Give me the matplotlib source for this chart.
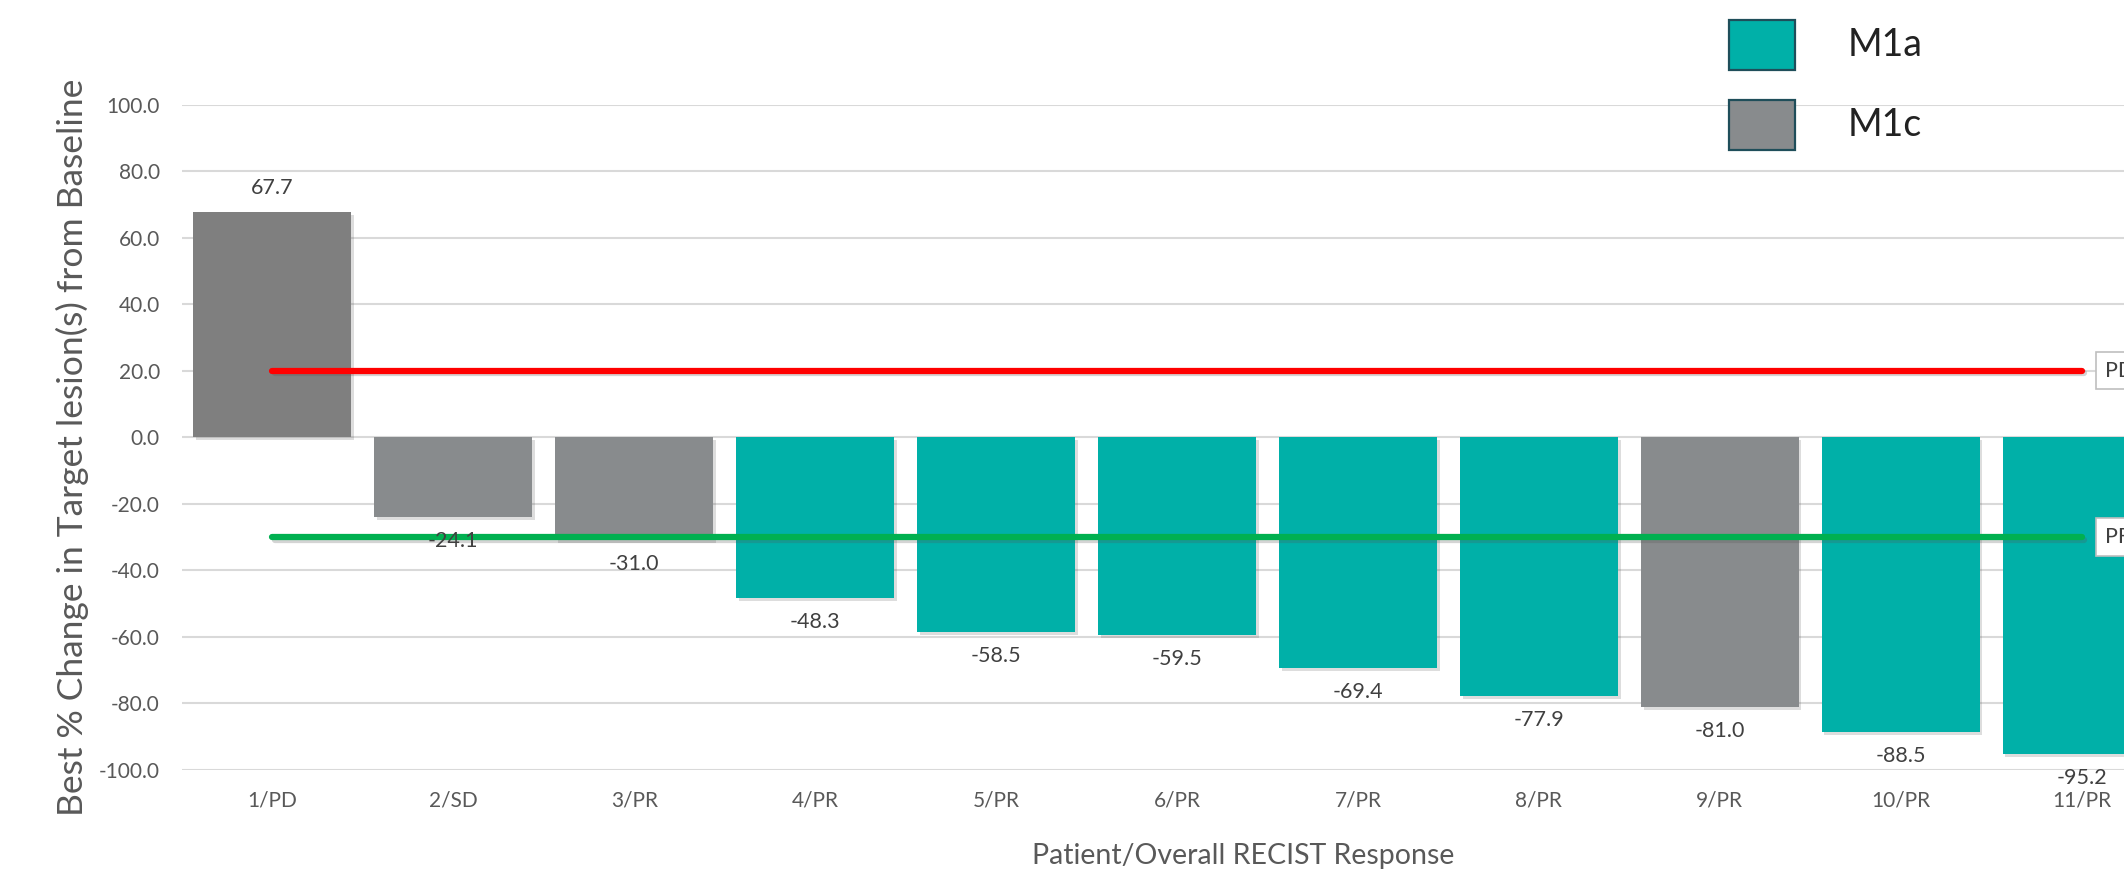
import matplotlib
matplotlib.use("Agg")
import matplotlib.pyplot as plt
import matplotlib.patheffects as pe
from matplotlib.patches import Rectangle
from matplotlib.ticker import FormatStrFormatter

plt.rcParams['font.family'] = ['Lato', 'DejaVu Sans']

categories = ["1/PD", "2/SD", "3/PR", "4/PR", "5/PR", "6/PR", "7/PR", "8/PR", "9/PR", "10/PR", "11/PR"]
values = [67.7, -24.1, -31.0, -48.3, -58.5, -59.5, -69.4, -77.9, -81.0, -88.5, -95.2]
stage = ["M1c", "M1c", "M1c", "M1a", "M1a", "M1a", "M1a", "M1a", "M1c", "M1a", "M1a"]
pd_threshold = 20
pr_threshold = -30

teal = "#00B0A8"
gray = "#888B8D"
gray_first = "#7F7F7F"

W, H = 2124, 871
fig = plt.figure(figsize=(W / 100, H / 100), dpi=100)
left, right = 182, 2172
top, bottom = 104.5, 770
ax = fig.add_axes([left / W, 1 - bottom / H, (right - left) / W, (bottom - top) / H])

x = list(range(1, len(categories) + 1))
colors = []
for i, s in enumerate(stage):
    if s == "M1a":
        colors.append(teal)
    else:
        colors.append(gray_first if i == 0 else gray)

shadow = [pe.SimplePatchShadow(offset=(2, -2), alpha=0.18, shadow_rgbFace="#444444"), pe.Normal()]
bars = ax.bar(x, values, width=0.873, color=colors, zorder=3)
for b in bars:
    b.set_path_effects(shadow)

ax.bar_label(bars, labels=[f"{v:.1f}" for v in values], padding=10, fontsize=15.5, color="#404040", zorder=5)

line_shadow = [pe.SimpleLineShadow(offset=(1.5, -2), alpha=0.25, shadow_color="#555555"), pe.Normal()]
ax.plot([x[0], x[-1]], [pd_threshold, pd_threshold], color="#FF0000", lw=4.5,
        solid_capstyle="round", zorder=4, path_effects=line_shadow)
ax.plot([x[0], x[-1]], [pr_threshold, pr_threshold], color="#00B050", lw=4.5,
        solid_capstyle="round", zorder=4, path_effects=line_shadow)

for lab, yv in (("PD", pd_threshold), ("PR", pr_threshold)):
    ax.annotate(lab, xy=(x[-1], yv), xytext=(23, 0), textcoords="offset pixels",
                ha="left", va="center", fontsize=15.5, color="#404040", annotation_clip=False,
                bbox=dict(boxstyle="square,pad=0.4", fc="white", ec="#BFBFBF", lw=1.2), zorder=6)

ax.set_xlim(0.5, len(categories) + 0.5)
ax.set_ylim(-100, 100)
ax.set_yticks(range(-100, 101, 20))
ax.yaxis.set_major_formatter(FormatStrFormatter("%.1f"))
ax.set_xticks(x)
ax.set_xticklabels(categories)
ax.tick_params(axis="both", length=0, labelsize=15, labelcolor="#595959")
ax.tick_params(axis="y", pad=16)
ax.tick_params(axis="x", pad=15)
ax.grid(axis="y", color="#D9D9D9", lw=1.5, zorder=0)
ax.set_axisbelow(True)
for s in ax.spines.values():
    s.set_visible(False)

fig.text(72 / W, 1 - 447 / H, "Best % Change in Target lesion(s) from Baseline", rotation=90,
         ha="center", va="center", fontsize=25.5, color="#595959")
fig.text(1243 / W, 1 - 856 / H, "Patient/Overall RECIST Response",
         ha="center", va="center", fontsize=20.5, color="#595959")

# legend
for (label, col, y0) in (("M1a", teal, 20), ("M1c", gray, 100)):
    fig.add_artist(Rectangle((1729 / W, 1 - (y0 + 50) / H), 66 / W, 50 / H,
                             transform=fig.transFigure, fc=col, ec="#1F4E5A", lw=1.6))
    fig.text(1848 / W, 1 - (y0 + 25) / H, label, ha="left", va="center",
             fontsize=27, color="#222222")

fig.savefig("out.png", dpi=100)
